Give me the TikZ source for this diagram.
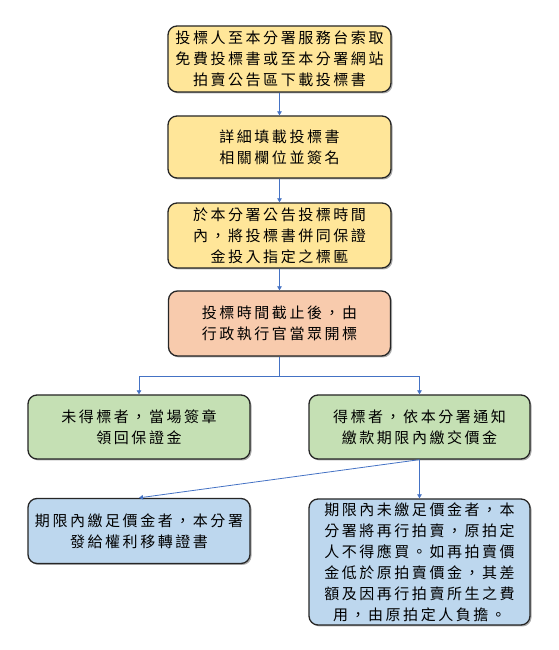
\documentclass[tikz,border=0pt]{standalone}
\usepackage{fontspec}
\newfontfamily\cjk[LetterSpace=17]{Noto Sans CJK TC}
\usetikzlibrary{arrows.meta,shadows}
\definecolor{yel}{HTML}{FFE699}
\definecolor{sal}{HTML}{F8CBAD}
\definecolor{grn}{HTML}{C5E0B4}
\definecolor{blu}{HTML}{BDD7EE}
\definecolor{edge}{HTML}{262626}
\definecolor{arr}{HTML}{4472C4}
\tikzset{
  box/.style={draw=edge, line width=1.3pt, rounded corners=9pt, align=center,
    inner sep=2pt, font=\cjk\fontsize{15}{21}\selectfont, text=black,
    drop shadow={shadow xshift=1.5pt, shadow yshift=-1.5pt, opacity=0.45, fill=black!70}},
  link/.style={draw=arr, line width=0.8pt, -{Triangle[width=4.5pt,length=4pt]}}
}
\begin{document}
\begin{tikzpicture}[x=1pt,y=1pt]
\useasboundingbox (0,0) rectangle (559,650);
\node[box, fill=yel, minimum width=223pt, minimum height=66pt] (b1) at (279.5,591)
  {投標人至本分署服務台索取\\免費投標書或至本分署網站\\拍賣公告區下載投標書};
\node[box, fill=yel, minimum width=223pt, minimum height=62pt] (b2) at (279.5,503)
  {詳細填載投標書\\相關欄位並簽名};
\node[box, fill=yel, minimum width=223pt, minimum height=65pt] (b3) at (279.5,414.5)
  {於本分署公告投標時間\\內，將投標書併同保證\\金投入指定之標匭};
\node[box, fill=sal, minimum width=222pt, minimum height=65pt] (b4) at (279.5,326.5)
  {投標時間截止後，由\\行政執行官當眾開標};
\node[box, fill=grn, minimum width=222pt, minimum height=64pt] (b5) at (139,223)
  {未得標者，當場簽章\\領回保證金};
\node[box, fill=grn, minimum width=221pt, minimum height=64pt] (b6) at (419.5,223)
  {得標者，依本分署通知\\繳款期限內繳交價金};
\node[box, fill=blu, minimum width=222pt, minimum height=65pt] (b7) at (139,119)
  {期限內繳足價金者，本分署\\發給權利移轉證書};
\node[box, fill=blu, minimum width=221pt, minimum height=126pt] (b8) at (419.5,88)
  {期限內未繳足價金者，本\\分署將再行拍賣，原拍定\\人不得應買。如再拍賣價\\金低於原拍賣價金，其差\\額及因再行拍賣所生之費\\用，由原拍定人負擔。};
\coordinate (split) at (279.5,274);
\draw[link] (b1.south) -- (b2.north);
\draw[link] (b2.south) -- (b3.north);
\draw[link] (b3.south) -- (b4.north);
\draw[draw=arr, line width=0.8pt] (b4.south) -- (split);
\draw[link] (split) -| (b5.north);
\draw[link] (split) -| (b6.north);
\draw[link] (b6.south) -- (b7.north);
\draw[link] (b6.south) -- (b8.north);
\end{tikzpicture}
\end{document}
